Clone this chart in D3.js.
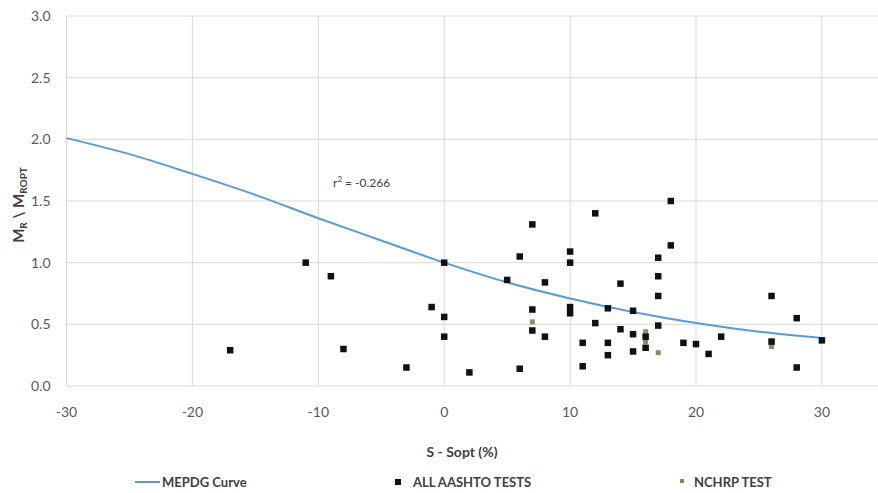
<!DOCTYPE html>
<html>
<head>
<meta charset="utf-8">
<script src="https://cdn.jsdelivr.net/npm/d3@7"></script>
<style>
  body { margin: 0; background: #fff; }
  svg { display: block; font-family: Lato, "Open Sans", sans-serif; }
  .grid line { stroke: #d9d9d9; stroke-width: 1; }
  .tick-label { fill: #595959; font-size: 14px; }
  .axis-title { fill: #404040; font-size: 14px; font-weight: bold; }
  .legend text { fill: #404040; font-size: 13px; font-weight: bold; }
</style>
</head>
<body>
<div id="chart"></div>
<script>
// tick labels
var xTicks = [-30, -20, -10, 0, 10, 20, 30];
var yTicks = [0.0, 0.5, 1.0, 1.5, 2.0, 2.5, 3.0];

// mepdg curve
var curveX = [-30, -25, -20, -15, -10, -5, 0, 5, 10, 15, 20, 25, 30];
var curveY = [2.01, 1.88, 1.72, 1.55, 1.36, 1.18, 1.00, 0.84, 0.71, 0.60, 0.51, 0.44, 0.39];

// all aashto tests
var aashtoX = [-17, -11, -9, -8, -3, -1, 0, 0, 0, 2, 5, 6, 6, 7, 7, 7, 8, 8,
  10, 10, 10, 10, 11, 11, 12, 12, 13, 13, 13, 14, 14, 15, 15, 15, 16, 16,
  17, 17, 17, 17, 18, 18, 19, 20, 21, 22, 26, 26, 28, 28, 30];
var aashtoY = [0.29, 1.00, 0.89, 0.30, 0.15, 0.64, 1.00, 0.56, 0.40, 0.11, 0.86, 1.05, 0.14, 1.31, 0.62, 0.45, 0.84, 0.40,
  1.09, 1.00, 0.64, 0.59, 0.35, 0.16, 1.40, 0.51, 0.63, 0.35, 0.25, 0.83, 0.46, 0.61, 0.42, 0.28, 0.40, 0.31,
  1.04, 0.89, 0.73, 0.49, 1.50, 1.14, 0.35, 0.34, 0.26, 0.40, 0.73, 0.36, 0.55, 0.15, 0.37];

// nchrp tests
var nchrpX = [7, 16, 16, 17, 26];
var nchrpY = [0.52, 0.44, 0.36, 0.27, 0.32];

var fullWidth = 878,
  fullHeight = 493;

var svg = d3.select('#chart').append('svg')
  .attr('width', fullWidth)
  .attr('height', fullHeight);

// scales, the plot area runs off the right edge of the picture
var xScale = d3.scaleLinear()
  .domain([-30, 35])
  .range([66.5, 66.5 + 65 * 12.59]);

var yScale = d3.scaleLinear()
  .domain([0, 3])
  .range([386, 16]);

var plot = svg.append('g');

// horizontal gridlines
plot.append('g')
  .attr('class', 'grid')
  .selectAll('line')
  .data(yTicks)
  .enter()
  .append('line')
  .attr('x1', xScale(-30))
  .attr('x2', fullWidth)
  .attr('y1', function(d) { return yScale(d); })
  .attr('y2', function(d) { return yScale(d); });

// vertical gridlines
plot.append('g')
  .attr('class', 'grid')
  .selectAll('line')
  .data(xTicks)
  .enter()
  .append('line')
  .attr('x1', function(d) { return xScale(d); })
  .attr('x2', function(d) { return xScale(d); })
  .attr('y1', yScale(3))
  .attr('y2', yScale(0));

// y tick labels
svg.append('g')
  .selectAll('text')
  .data(yTicks)
  .enter()
  .append('text')
  .attr('class', 'tick-label')
  .attr('x', xScale(-30) - 16)
  .attr('y', function(d) { return yScale(d); })
  .attr('dy', '0.35em')
  .style('text-anchor', 'end')
  .text(function(d) { return d3.format('.1f')(d); });

// x tick labels
svg.append('g')
  .selectAll('text')
  .data(xTicks)
  .enter()
  .append('text')
  .attr('class', 'tick-label')
  .attr('x', function(d) { return xScale(d); })
  .attr('y', 412)
  .attr('dy', '0.35em')
  .style('text-anchor', 'middle')
  .text(function(d) { return d; });

// x axis title
svg.append('text')
  .attr('class', 'axis-title')
  .attr('x', 462)
  .attr('y', 452)
  .attr('dy', '0.35em')
  .style('text-anchor', 'middle')
  .text('S - Sopt (%)');

// y axis title
var yTitle = svg.append('text')
  .attr('class', 'axis-title')
  .attr('transform', 'translate(19,205) rotate(-90)')
  .attr('dy', '0.35em')
  .style('text-anchor', 'middle')
  .style('font-size', '15px');
yTitle.append('tspan').text('M');
yTitle.append('tspan').attr('dy', '3').style('font-size', '10px').text('R');
yTitle.append('tspan').attr('dy', '-3').text(' \\ M');
yTitle.append('tspan').attr('dy', '3').style('font-size', '10px').text('ROPT');

// mepdg curve
var curveData = curveX.map(function(x, i) { return { x: x, y: curveY[i] }; });
var line = d3.line()
  .x(function(d) { return xScale(d.x); })
  .y(function(d) { return yScale(d.y); })
  .curve(d3.curveMonotoneX);

plot.append('path')
  .datum(curveData)
  .attr('d', line)
  .attr('fill', 'none')
  .attr('stroke', '#5b9bd5')
  .attr('stroke-width', 2);

// r squared note
svg.append('text')
  .attr('x', 333)
  .attr('y', 183)
  .attr('dy', '0.35em')
  .style('font-size', '12px')
  .style('fill', '#404040')
  .html('r<tspan dy="-5" font-size="8px">2</tspan><tspan dy="5"> = -0.266</tspan>');

// nchrp markers, drawn under the aashto ones
plot.append('g')
  .selectAll('rect')
  .data(nchrpX)
  .enter()
  .append('rect')
  .attr('x', function(d) { return xScale(d) - 2.5; })
  .attr('y', function(d, i) { return yScale(nchrpY[i]) - 2.5; })
  .attr('width', 5)
  .attr('height', 5)
  .attr('fill', '#8c8c66');

// aashto markers
var markSize = 6.5;
plot.append('g')
  .selectAll('rect')
  .data(aashtoX)
  .enter()
  .append('rect')
  .attr('x', function(d) { return xScale(d) - markSize / 2; })
  .attr('y', function(d, i) { return yScale(aashtoY[i]) - markSize / 2; })
  .attr('width', markSize)
  .attr('height', markSize)
  .attr('fill', '#111');

// legend
var legend = svg.append('g').attr('class', 'legend');

legend.append('line')
  .attr('x1', 135)
  .attr('x2', 160)
  .attr('y1', 482)
  .attr('y2', 482)
  .attr('stroke', '#5b9bd5')
  .attr('stroke-width', 2);
legend.append('text')
  .attr('x', 162)
  .attr('y', 482)
  .attr('dy', '0.35em')
  .text('MEPDG Curve');

legend.append('rect')
  .attr('x', 395)
  .attr('y', 479)
  .attr('width', 6)
  .attr('height', 6)
  .attr('fill', '#111');
legend.append('text')
  .attr('x', 413)
  .attr('y', 482)
  .attr('dy', '0.35em')
  .text('ALL AASHTO TESTS');

legend.append('rect')
  .attr('x', 680)
  .attr('y', 479)
  .attr('width', 4)
  .attr('height', 4)
  .attr('fill', '#8a8a55');
legend.append('text')
  .attr('x', 694)
  .attr('y', 482)
  .attr('dy', '0.35em')
  .text('NCHRP TEST');
</script>
</body>
</html>
